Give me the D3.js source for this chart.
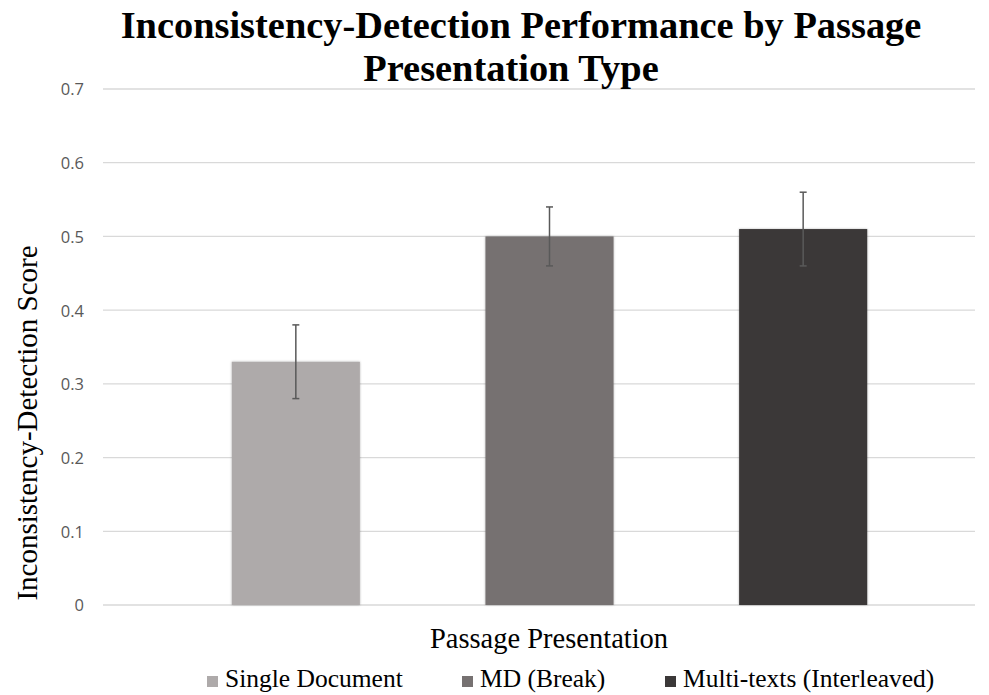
<!DOCTYPE html>
<html><head><meta charset="utf-8">
<script src="https://cdn.jsdelivr.net/npm/d3@7"></script>
<style>body{margin:0;background:#fff}svg{display:block}</style>
</head><body>
<svg id="c" width="989" height="695"></svg>
<script>
const categories = ["Single Document", "MD (Break)", "Multi-texts (Interleaved)"];
const values = [0.33, 0.50, 0.51];
const errLow = [0.28, 0.46, 0.46];
const errHigh = [0.38, 0.54, 0.56];
const yTicks = [0, 0.1, 0.2, 0.3, 0.4, 0.5, 0.6, 0.7];
const colors = ["#aeaaaa", "#767171", "#3b3838"];

const svg = d3.select("#c");
const serif = "'Liberation Serif','Times New Roman',serif";
const y = d3.scaleLinear().domain([0, 0.7]).range([605, 89]);
const x = d3.scaleBand().domain(categories).range([169, 930]).paddingInner(0.495).paddingOuter(0.2475);
const gridL = 103, gridR = 975;

const defs = svg.append("defs");
const f = defs.append("filter").attr("id","sh").attr("x","-10%").attr("y","-10%").attr("width","120%").attr("height","120%");
f.append("feDropShadow").attr("dx",0).attr("dy",0).attr("stdDeviation",1.2).attr("flood-color","#000").attr("flood-opacity",0.3);

// gridlines
svg.append("g").selectAll("line").data(yTicks).join("line")
  .attr("x1", gridL).attr("x2", gridR)
  .attr("y1", d => y(d)).attr("y2", d => y(d))
  .attr("stroke", "#d9d9d9").attr("stroke-width", 1.3);

// y axis labels
const yAxis = d3.axisLeft(y).tickValues(yTicks).tickSize(0).tickPadding(0)
  .tickFormat(d => d === 0 ? "0" : d3.format(".1f")(d));
const ga = svg.append("g").attr("transform", "translate(84,0)").call(yAxis);
ga.select(".domain").remove();
ga.selectAll("text").attr("fill", "#595959").attr("dy", "0.36em")
  .style("font-family", "'Open Sans','DejaVu Sans',sans-serif").style("font-size", "16.5px");

// bars
svg.append("g").selectAll("rect").data(categories).join("rect")
  .attr("x", d => x(d)).attr("width", x.bandwidth())
  .attr("y", (d, i) => y(values[i])).attr("height", (d, i) => y(0) - y(values[i]))
  .attr("fill", (d, i) => colors[i]).attr("filter", "url(#sh)");

// error bars
const eg = svg.append("g").attr("stroke", "#595959").attr("stroke-width", 1.5);
categories.forEach((c, i) => {
  const cx = x(c) + x.bandwidth() / 2;
  eg.append("line").attr("x1", cx).attr("x2", cx).attr("y1", y(errLow[i])).attr("y2", y(errHigh[i]));
  eg.append("line").attr("x1", cx - 3.5).attr("x2", cx + 3.5).attr("y1", y(errLow[i])).attr("y2", y(errLow[i]));
  eg.append("line").attr("x1", cx - 3.5).attr("x2", cx + 3.5).attr("y1", y(errHigh[i])).attr("y2", y(errHigh[i]));
});

// title
const title = svg.append("text").attr("text-anchor", "middle")
  .style("font-family", serif).style("font-weight", "bold").style("font-size", "38.4px").attr("fill", "#000");
title.append("tspan").attr("x", 521).attr("y", 38).text("Inconsistency-Detection Performance by Passage");
title.append("tspan").attr("x", 511).attr("y", 81).text("Presentation Type");

// axis titles
svg.append("text").attr("transform", "translate(37,423) rotate(-90)").attr("text-anchor", "middle")
  .style("font-family", serif).style("font-size", "29px").attr("fill", "#000").text("Inconsistency-Detection Score");
svg.append("text").attr("x", 549).attr("y", 648).attr("text-anchor", "middle")
  .style("font-family", serif).style("font-size", "28.5px").attr("fill", "#000").text("Passage Presentation");

// legend
const legX = [207, 462, 665];
const lg = svg.append("g");
categories.forEach((c, i) => {
  lg.append("rect").attr("x", legX[i]).attr("y", 676).attr("width", 11).attr("height", 11).attr("fill", colors[i]);
  lg.append("text").attr("x", legX[i] + 18).attr("y", 687)
    .style("font-family", serif).style("font-size", "25.5px").attr("fill", "#000").text(c);
});
</script>
</body></html>
